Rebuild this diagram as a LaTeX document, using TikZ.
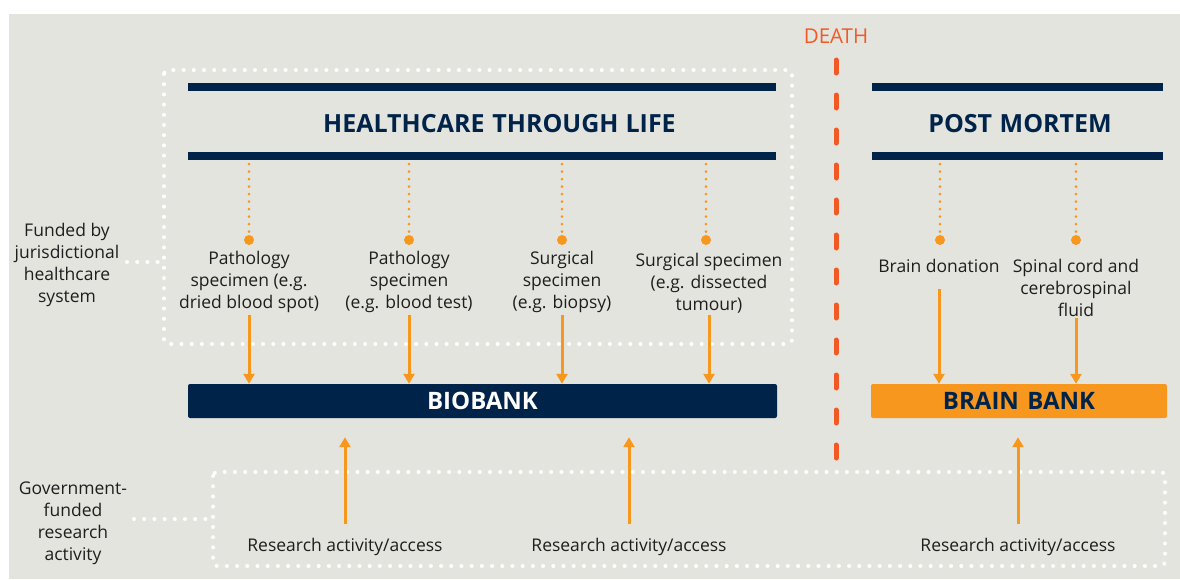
\documentclass[tikz,border=0pt]{standalone}
\usepackage{fontspec}
\setmainfont{Open Sans}
\usetikzlibrary{arrows.meta}
\definecolor{bg}{HTML}{E4E4DF}
\definecolor{navy}{HTML}{00234A}
\definecolor{orng}{HTML}{F7971E}
\definecolor{deathc}{HTML}{F15A24}
\definecolor{txt}{HTML}{1E1E1E}
\tikzset{
  bar/.style={fill=navy, draw=none, minimum height=8pt, inner sep=0pt},
  lbl/.style={align=center, text=txt, font=\fontsize{17.5}{22}\selectfont, inner sep=1pt},
  odot/.style={circle, fill=orng, draw=none, minimum size=10pt, inner sep=0pt},
  odotline/.style={draw=orng, line width=3pt, line cap=round, dash pattern=on 0pt off 7.5pt},
  wdot/.style={draw=white, line width=4pt, line cap=round, dash pattern=on 0pt off 10.2pt, rounded corners=4pt},
  oarrow/.style={draw=orng, line width=3pt, -{Triangle[length=10pt,width=11pt]}},
  bank/.style={draw=none, rounded corners=2pt, minimum height=34pt, inner sep=0pt, font=\bfseries\fontsize{24}{24}\selectfont},
  head/.style={text=navy, font=\bfseries\fontsize{25}{25}\selectfont},
}
\begin{document}
\begin{tikzpicture}[x=1pt,y=-1pt]
\useasboundingbox (0,0) rectangle (1180,579);
\fill[bg] (9,14) rectangle (1180,579);

% white dotted boxes
\draw[wdot] (164,70) rectangle (792,344);
\draw[wdot] (213,472) rectangle (1165,566);

% side labels
\node[lbl] (fund) at (67,264.5) {Funded by\\jurisdictional\\healthcare\\system};
\node[lbl] (gov) at (73,523) {Government-\\funded\\research\\activity};
\coordinate (fundend) at (164,262);
\coordinate (govend) at (213,519);
\draw[wdot] (127,262) -- (fundend);
\draw[wdot] (134,519) -- (govend);

% death
\node[text=deathc, font=\fontsize{20.5}{20.5}\selectfont] (death) at (836,36) {DEATH};
\coordinate (deathend) at (836,462);
\draw[deathc, line width=5pt, line cap=round, dash pattern=on 13pt off 22pt] (836,60) -- (deathend);

% bars
\node[bar, minimum width=588pt] (htop) at (482,87) {};
\node[bar, minimum width=588pt] (hbot) at (482,156) {};
\node[bar, minimum width=291pt] (ptop) at (1017.5,87) {};
\node[bar, minimum width=291pt] (pbot) at (1017.5,156) {};
\node[head] (htitle) at (499.5,124) {HEALTHCARE\hspace{0.32em}THROUGH\hspace{0.28em}LIFE};
\node[head] (ptitle) at (1020,124) {POST\hspace{0.3em}MORTEM};

% banks
\node[bank, fill=navy, text=white, minimum width=589pt] (bio) at (482.5,401) {BIOBANK};
\node[bank, fill=orng, text=navy, minimum width=296pt] (brain) at (1019,401) {BRAIN\hspace{0.35em}BANK};

% dots
\node[odot] (d1) at (249,240) {};
\node[odot] (d2) at (409,240) {};
\node[odot] (d3) at (562,240) {};
\node[odot] (d4) at (706,240) {};
\node[odot] (d5) at (940,240) {};
\node[odot] (d6) at (1076,240) {};
\foreach \d in {d1,d2,d3,d4} \draw[odotline] (\d |- hbot.south) ++(0,4) -- (\d.north);
\foreach \d in {d5,d6} \draw[odotline] (\d |- pbot.south) ++(0,4) -- (\d.north);

% specimen labels
\node[lbl] (s1) at (249,282) {Pathology\\specimen (e.g.\\dried blood spot)};
\node[lbl] (s2) at (409,282) {Pathology\\specimen\\(e.g. blood test)};
\node[lbl] (s3) at (562,282) {Surgical\\specimen\\(e.g. biopsy)};
\node[lbl] (s4) at (709,283) {Surgical specimen\\(e.g. dissected\\tumour)};
\node[lbl] (s5) at (939,266) {Brain donation};
\node[lbl] (s6) at (1076,287.5) {Spinal cord and\\cerebrospinal\\fluid};

\foreach \s in {s1,s2,s3,s4} \draw[oarrow] (\s.south) ++(0,1) -- (\s.south |- bio.north);
\draw[oarrow] (s5.south) ++(0,15) -- (s5.south |- brain.north);
\draw[oarrow] (s6.south) ++(0,1) -- (s6.south |- brain.north);

% research
\node[lbl] (r1) at (345,547) {Research activity/access};
\node[lbl] (r2) at (629,547) {Research activity/access};
\node[lbl] (r3) at (1018,547) {Research activity/access};
\draw[oarrow, shorten <=13pt, shorten >=19pt] (r1.north) -- (r1.north |- bio.south);
\draw[oarrow, shorten <=13pt, shorten >=19pt] (r2.north) -- (r2.north |- bio.south);
\draw[oarrow, shorten <=13pt, shorten >=19pt] (r3.north) -- (r3.north |- brain.south);
\end{tikzpicture}
\end{document}
